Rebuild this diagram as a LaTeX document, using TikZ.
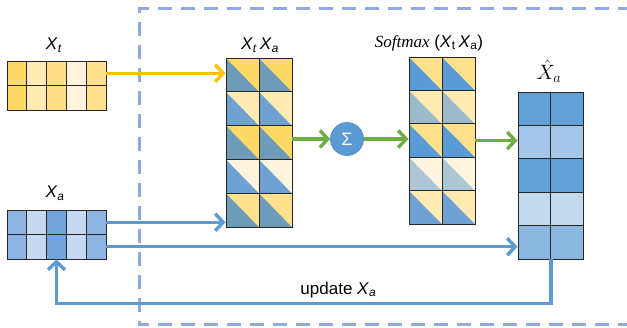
\documentclass[tikz,border=0pt]{standalone}
\usepackage{fontspec}
\setmainfont{Liberation Sans}
\newfontfamily\seriffont{Liberation Serif}
\usetikzlibrary{arrows.meta}

\definecolor{ytA}{HTML}{FFD966}
\definecolor{ytB}{HTML}{FFEBB3}
\definecolor{ytC}{HTML}{FFDF85}
\definecolor{ytD}{HTML}{FFF5DE}
\definecolor{ytE}{HTML}{FFE08C}
\definecolor{baA}{HTML}{8DB4E2}
\definecolor{baB}{HTML}{C5D9F1}
\definecolor{baC}{HTML}{74A5DA}
\definecolor{pbT}{HTML}{6E9BB7}
\definecolor{pbM}{HTML}{6FA2D2}
\definecolor{smA}{HTML}{5B9BD5}
\definecolor{smB}{HTML}{9DBACB}
\definecolor{smC}{HTML}{ADC6D3}
\definecolor{smD}{HTML}{6FA2D3}
\definecolor{xhA}{HTML}{62A0D8}
\definecolor{xhB}{HTML}{A4C6E8}
\definecolor{xhC}{HTML}{C3D9EE}
\definecolor{xhD}{HTML}{8BB7E0}
\definecolor{arrYellow}{HTML}{FFC000}
\definecolor{arrBlue}{HTML}{5B9BD5}
\definecolor{arrGreen}{HTML}{70AD47}
\definecolor{frameBlue}{HTML}{8FAADC}

\begin{document}
\begin{tikzpicture}[x=1pt,y=-1pt,
    tri/.style={path picture={\fill[#1] (path picture bounding box.north west) -- (path picture bounding box.north east) -- (path picture bounding box.south east) -- cycle;}}]
        \tikzstyle{cell}=[draw=black!85,line width=0.9pt,inner sep=0pt]
        \tikzstyle{lbl}=[font=\fontsize{17}{19}\selectfont,inner sep=1pt,text=black]
        \tikzstyle{arr}=[line width=3.4pt,-{Straight Barb[length=8pt,width=17pt]}]
        \tikzstyle{frame}=[draw=frameBlue,line width=3pt,dash pattern=on 14pt off 9pt]
        \useasboundingbox (0,0) rectangle (627,328);

        % dashed frame
        \draw[frame] (632,9) -| (139,325) -- (632,325);

        % X_t and X_a
        \foreach \c/\cl in {1/ytA,2/ytB,3/ytC,4/ytD,5/ytE}
            \foreach \r in {1,2}
                \node[cell,fill=\cl,minimum width=19.8pt,minimum height=24.5pt] (xt-\r-\c) at ({7+(\c-0.5)*19.8},{61+(\r-0.5)*24.5}) {};
        \foreach \c/\cl in {1/baA,2/baB,3/baC,4/baB,5/baA}
            \foreach \r in {1,2}
                \node[cell,fill=\cl,minimum width=19.8pt,minimum height=24.5pt] (xa-\r-\c) at ({7+(\c-0.5)*19.8},{210+(\r-0.5)*24.5}) {};

        % X_t X_a
        \foreach \r/\yc/\bc in {1/ytA/pbT,2/ytB/pbM,3/ytA/pbT,4/ytD/pbM,5/ytE/pbT}
            \foreach \c in {1,2}
                \node[cell,fill=\bc,tri=\yc,minimum width=33pt,minimum height=33.8pt] (pr-\r-\c) at ({226+(\c-0.5)*33},{58+(\r-0.5)*33.8}) {};

        % softmax
        \foreach \r/\yc/\bc in {1/ytE/smA,2/ytB/smB,3/ytE/smA,4/ytD/smC,5/ytB/smD}
            \foreach \c in {1,2}
                \node[cell,fill=\bc,tri=\yc,minimum width=33pt,minimum height=33.4pt] (sm-\r-\c) at ({409+(\c-0.5)*33},{57+(\r-0.5)*33.4}) {};

        % hat X_a
        \foreach \r/\bc in {1/xhA,2/xhB,3/xhA,4/xhC,5/xhD}
            \foreach \c in {1,2}
                \node[cell,fill=\bc,minimum width=32.5pt,minimum height=33.4pt] (xh-\r-\c) at ({518+(\c-0.5)*32.5},{92+(\r-0.5)*33.4}) {};

        \node[circle,fill=arrBlue,draw=arrBlue!85!black,line width=0.6pt,minimum size=33pt,inner sep=0pt,text=white,font=\fontsize{18}{18}\selectfont] (sg) at (347,139) {Σ};

        % labels
        \node[lbl] (xtlab) at (54,45) {\textit{X}\textsubscript{\textit{t}}};
        \node[lbl] (xalab) at (55,193) {\textit{X}\textsubscript{\textit{a}}};
        \node[lbl] (prlab) at (260,45) {\textit{X}\textsubscript{\textit{t}}\,\textit{X}\textsubscript{\textit{a}}};
        \node[lbl] (smlab) at (429,43) {{\seriffont\itshape Softmax} (\textit{X}\textsubscript{t}\,\textit{X}\textsubscript{a})};
        \node[lbl,font=\fontsize{20}{22}\selectfont] (xhlab) at (549,71) {$\hat{X}_a$};

        % connectors
        \draw[arr,arrYellow] (xt-1-5.east) -- (xt-1-5.east -| pr-1-1.west);
        \draw[arr,arrBlue] (xa-1-5.east) -- (xa-1-5.east -| pr-5-1.west);
        \draw[arr,arrBlue] (xa-2-5.east) -- (xa-2-5.east -| xh-5-1.west);
        \draw[arr,arrGreen] (sg.west -| pr-3-2.east) -- (sg.west);
        \draw[arr,arrGreen] (sg.east) -- (sg.east -| sm-3-1.west);
        \draw[arr,arrGreen] (sm-3-2.east) -- (sm-3-2.east -| xh-2-1.west);
        \draw[arr,arrBlue] (xh-5-1.south east) -- ++(0,44) -| node[lbl,pos=0.215,above=3pt] (upd) {update \textit{X}\textsubscript{\textit{a}}} (xa-2-3.south);
\end{tikzpicture}
\end{document}
